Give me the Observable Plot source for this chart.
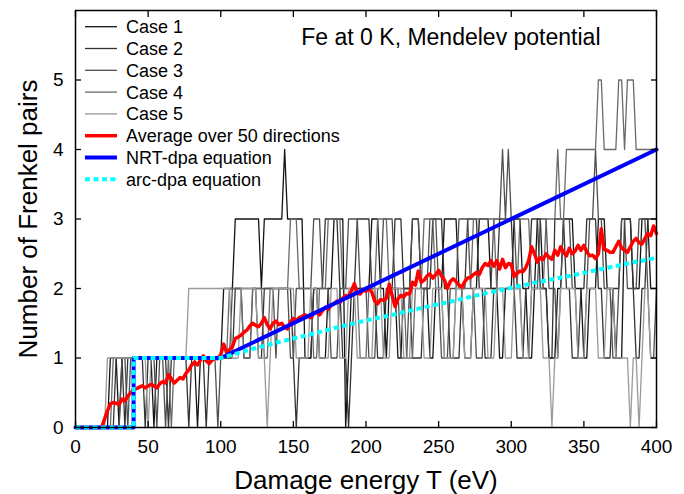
<!DOCTYPE html>
<html><head><meta charset="utf-8">
<script src="https://cdn.jsdelivr.net/npm/d3@7"></script>
<script src="https://cdn.jsdelivr.net/npm/@observablehq/plot@0.6"></script>
<style>
html,body{margin:0;padding:0;background:#fff;}
#chart{width:684px;height:494px;}
</style></head><body><div id="chart"></div>
<script>
// Damage energy grid step (eV) for sampled series
const energyStep = 2;

const case1 = [0,0,0,0,0,0,0,0,0,0, 0,0,1,1,1,0,1,1,1,1, 1,1,1,1,1,1,1,0,1,1, 1,1,1,1,1,1,1,1,1,1,
  1,1,0,1,1,1,1,1,1,1, 1,2,2,2,2,3,3,3,3,3, 3,3,3,3,2,3,3,3,3,3, 3,3,4,3,3,3,3,3,3,1,
  1,1,2,2,1,1,1,2,2,3, 3,3,3,0,1,2,2,2,2,2, 2,2,3,3,3,2,2,1,2,2, 2,1,1,2,2,2,3,3,3,2,
  2,2,1,1,2,2,2,3,3,3, 3,3,2,2,1,1,1,2,2,3, 3,3,3,2,2,2,1,1,2,2, 2,3,3,3,2,2,1,1,2,3,
  3,2,2,1,1,1,2,2,3,3, 3,3,2,2,2,1,1,2,2,2, 3,3,3,2,2,2,1,1,1,3, 3,3,2,2,2,3,3,3,2,2, 2];
const case2 = [0,0,0,0,0,0,0,0,0,0, 0,0,0,0,1,1,1,0,1,1, 1,1,1,1,0,1,1,1,1,1, 1,1,0,1,1,1,1,1,1,0,
  1,1,1,1,1,0,1,1,1,1, 1,1,1,1,1,2,2,2,2,2, 2,2,2,1,1,2,2,2,2,2, 2,2,2,2,2,1,0,1,1,1,
  1,1,2,2,2,2,3,3,3,3, 3,2,1,1,0,1,2,3,3,3, 3,3,2,2,1,1,1,2,2,2, 3,3,3,2,2,2,1,1,1,1,
  2,2,2,3,3,3,3,2,2,1, 1,1,1,2,2,3,3,3,3,2, 2,1,1,1,2,2,3,3,3,3, 3,2,1,1,1,2,2,3,3,3,
  2,2,2,1,1,3,3,3,3,2, 2,1,1,1,2,2,3,3,3,3, 2,2,1,1,1,2,2,2,3,3, 3,3,2,1,1,2,2,3,3,3, 3];
const case3 = [0,0,0,0,0,0,0,0,0,0, 0,0,0,0,0,0,1,1,0,1, 1,1,1,1,1,1,1,1,0,1, 1,0,1,1,1,1,1,1,1,1,
  1,1,1,1,1,1,1,1,1,0, 1,1,1,1,2,2,2,2,1,1, 1,2,2,2,2,2,2,2,2,1, 2,2,2,2,1,1,2,2,2,2,
  2,2,3,3,3,2,2,2,1,1, 1,2,2,2,3,3,3,3,2,2, 2,1,1,1,2,2,3,3,3,3, 2,2,1,1,1,2,3,3,3,2,
  2,2,3,3,3,2,1,1,1,2, 2,2,3,3,3,3,2,2,1,1, 1,2,2,2,3,3,3,4,3,4, 3,3,2,2,1,1,1,2,2,2,
  3,3,3,2,2,2,1,2,3,3, 3,2,2,1,1,1,2,3,3,4, 3,3,2,2,2,1,1,2,3,3, 2,2,2,2,3,3,3,2,1,1, 2];
const case4 = [0,0,0,0,0,0,0,0,0,0, 0,0,0,1,1,1,1,1,1,1, 1,1,1,1,1,1,1,1,1,1, 1,1,1,0,1,1,1,1,1,1,
  1,1,1,1,1,1,1,1,1,1, 1,1,1,2,2,2,2,2,1,1, 1,2,2,2,2,1,1,2,2,2, 2,2,2,2,3,3,3,2,2,2,
  2,2,1,1,2,2,2,3,3,3, 3,3,2,2,2,2,2,2,1,1, 1,2,2,2,3,3,3,3,2,2, 2,2,2,2,1,1,1,2,2,2,
  3,3,3,3,2,2,2,1,1,1, 1,2,2,2,2,2,2,3,3,3, 3,3,3,3,3,2,2,2,2,2, 2,2,2,3,3,3,3,2,2,2,
  2,2,3,3,3,3,4,3,3,4, 4,4,4,4,4,4,4,4,4,4, 5,5,4,4,4,4,4,5,5,4, 5,5,5,4,4,4,4,4,4,4, 4];
const case5 = [0,0,0,0,0,0,0,0,0,0, 0,1,1,1,1,1,1,1,1,1, 1,1,1,1,1,0,1,1,1,1, 1,1,1,1,1,1,1,1,1,2,
  2,2,2,2,2,2,2,2,2,2, 2,2,2,2,1,1,1,2,2,2, 2,2,2,1,1,1,0,1,2,2, 2,2,2,2,2,2,1,1,1,1,
  1,2,2,2,1,1,1,1,2,2, 2,1,1,1,2,2,2,1,1,1, 1,1,1,2,2,2,1,1,1,2, 2,2,2,1,1,1,2,2,2,2,
  1,1,1,2,2,2,2,1,1,1, 1,2,2,2,1,1,1,2,2,2, 2,2,1,1,1,2,2,2,1,1, 1,2,2,2,1,1,1,2,2,2,
  2,1,1,1,0,1,1,2,2,2, 2,2,2,1,1,1,2,2,2,2, 1,1,1,2,2,2,1,1,1,1, 1,0,1,1,0,1,2,2,1,1, 1];
const average50 = [0,0,0,0,0,0,0,0,0,0,
  0.12,0.24,0.34,0.36,0.35,0.33,0.41,0.38,0.45,0.5,
  0.55,0.56,0.58,0.6,0.57,0.6,0.62,0.6,0.57,0.63,
  0.66,0.64,0.76,0.7,0.64,0.68,0.72,0.7,0.78,0.83,
  0.9,0.94,0.9,0.97,1.03,0.96,0.92,0.97,1.0,0.99,
  1.05,1.2,1.08,1.12,1.16,1.28,1.3,1.33,1.37,1.4,
  1.46,1.5,1.47,1.45,1.5,1.58,1.48,1.42,1.5,1.53,
  1.48,1.5,1.44,1.42,1.52,1.57,1.54,1.58,1.6,1.62,
  1.6,1.58,1.64,1.66,1.62,1.68,1.73,1.7,1.76,1.78,
  1.82,1.8,1.86,1.9,1.88,1.97,2.07,1.93,1.92,1.98,
  1.96,2.0,1.95,1.82,1.78,1.84,1.83,1.86,2.06,1.9,
  1.74,1.85,1.9,1.88,1.93,1.92,2.09,2.05,2.25,2.09,
  2.12,2.18,2.21,2.15,2.2,2.26,2.18,2.12,2.0,2.1,
  2.14,2.1,2.05,2.02,2.1,2.15,2.16,2.2,2.23,2.2,
  2.3,2.36,2.33,2.4,2.32,2.4,2.28,2.42,2.3,2.36,
  2.35,2.17,2.22,2.25,2.24,2.3,2.4,2.6,2.5,2.38,
  2.44,2.42,2.5,2.45,2.42,2.55,2.48,2.6,2.52,2.47,
  2.58,2.5,2.54,2.62,2.55,2.62,2.53,2.47,2.48,2.43,
  2.5,2.86,2.56,2.55,2.52,2.52,2.6,2.68,2.58,2.55,
  2.52,2.6,2.68,2.72,2.66,2.64,2.72,2.79,2.76,2.9,
  2.79];
const nrtEnergy = [0, 40, 40, 100, 400];
const nrtPairs  = [0, 0, 1, 1, 4];
const arcEnergy = [0, 40, 40, 100, 120, 140, 160, 180, 200, 220, 240, 260, 280, 300, 320, 340, 360, 380, 400];
const arcPairs  = [0, 0, 1, 1, 1.12, 1.23, 1.33, 1.44, 1.54, 1.63, 1.73, 1.82, 1.92, 2.01, 2.10, 2.18, 2.27, 2.36, 2.44];

const xTicks = [0, 50, 100, 150, 200, 250, 300, 350, 400];
const yTicks = [0, 1, 2, 3, 4, 5];
const caseNames = ["Case 1", "Case 2", "Case 3", "Case 4", "Case 5"];
const caseColors = ["#141414", "#333333", "#4f4f4f", "#6a6a6a", "#9a9a9a"];
const seriesLabels = ["Case 1", "Case 2", "Case 3", "Case 4", "Case 5", "Average over 50 directions", "NRT-dpa equation", "arc-dpa equation"];
const titleText = "Fe at 0 K, Mendelev potential";
const xLabel = "Damage energy T (eV)";
const yLabel = "Number of Frenkel pairs";

const caseRows = [];
[case1, case2, case3, case4, case5].forEach((vals, k) =>
  vals.forEach((n, i) => caseRows.push({T: i * energyStep, N: n, name: caseNames[k]})));
const avgRows = average50.map((n, i) => ({T: i * energyStep, N: n}));
const nrtRows = nrtEnergy.map((t, i) => ({T: t, N: nrtPairs[i]}));
const arcRows = arcEnergy.map((t, i) => ({T: t, N: arcPairs[i]}));

const font = "'Liberation Sans', Arial, Helvetica, sans-serif";
const plot = Plot.plot({
  width: 684, height: 494,
  marginLeft: 75, marginRight: 28, marginTop: 10, marginBottom: 67,
  style: {fontFamily: font, background: "white", color: "black", overflow: "visible"},
  x: {domain: [0, 400]},
  y: {domain: [0, 6]},
  color: {domain: caseNames, range: caseColors},
  marks: [
    Plot.line(caseRows, {x: "T", y: "N", z: "name", stroke: "name", strokeWidth: 1.3}),
    Plot.line(avgRows, {x: "T", y: "N", stroke: "#ff0000", strokeWidth: 3.5}),
    Plot.line(nrtRows, {x: "T", y: "N", stroke: "#0000ff", strokeWidth: 4}),
    Plot.line(arcRows, {x: "T", y: "N", stroke: "#00ffff", strokeWidth: 4, strokeDasharray: "5,3.5", strokeLinecap: "butt", strokeLinejoin: "miter"}),
    Plot.frame({stroke: "black", strokeWidth: 1.5}),
    Plot.axisX({anchor: "bottom", ticks: xTicks, tickSize: -6, tickPadding: 18, fontSize: 19, tickFormat: d => d, label: null, strokeWidth: 1.3}),
    Plot.axisX({anchor: "top", ticks: xTicks, tickSize: -6, tickFormat: () => "", label: null, strokeWidth: 1.3}),
    Plot.axisY({anchor: "left", ticks: yTicks, tickSize: -6, tickPadding: 18, fontSize: 19, tickFormat: d => d, label: null, strokeWidth: 1.3}),
    Plot.axisY({anchor: "right", ticks: yTicks, tickSize: -6, tickFormat: () => "", label: null, strokeWidth: 1.3}),
    Plot.text([xLabel], {frameAnchor: "bottom", dy: 61, fontSize: 26, text: d => d}),
    Plot.text([yLabel], {frameAnchor: "left", textAnchor: "middle", dx: -47, rotate: -90, fontSize: 26, text: d => d}),
    Plot.text([titleText], {frameAnchor: "top-right", textAnchor: "end", lineAnchor: "top", dx: -56, dy: 18.5, fontSize: 23, text: d => d})
  ]
});

// Legend inside the frame (top-left)
const svg = d3.select(plot);
const lg = svg.append("g").attr("font-family", font).attr("font-size", 18).attr("text-anchor", "start");
const legendStyles = caseColors.map(c => ({stroke: c, width: 1.3, dash: null}))
  .concat([{stroke: "#ff0000", width: 3.5, dash: null}, {stroke: "#0000ff", width: 4, dash: null}, {stroke: "#00ffff", width: 4, dash: "5,3.5"}]);
seriesLabels.forEach((lab, k) => {
  const y = 26.7 + k * 21.8;
  const s = legendStyles[k];
  lg.append("line").attr("x1", 85).attr("x2", 117).attr("y1", y).attr("y2", y)
    .attr("stroke", s.stroke).attr("stroke-width", s.width).attr("stroke-dasharray", s.dash);
  lg.append("text").attr("x", 126).attr("y", y + 6.4).attr("fill", "black").attr("text-anchor", "start").text(lab);
});

document.getElementById("chart").appendChild(plot);
</script></body></html>
